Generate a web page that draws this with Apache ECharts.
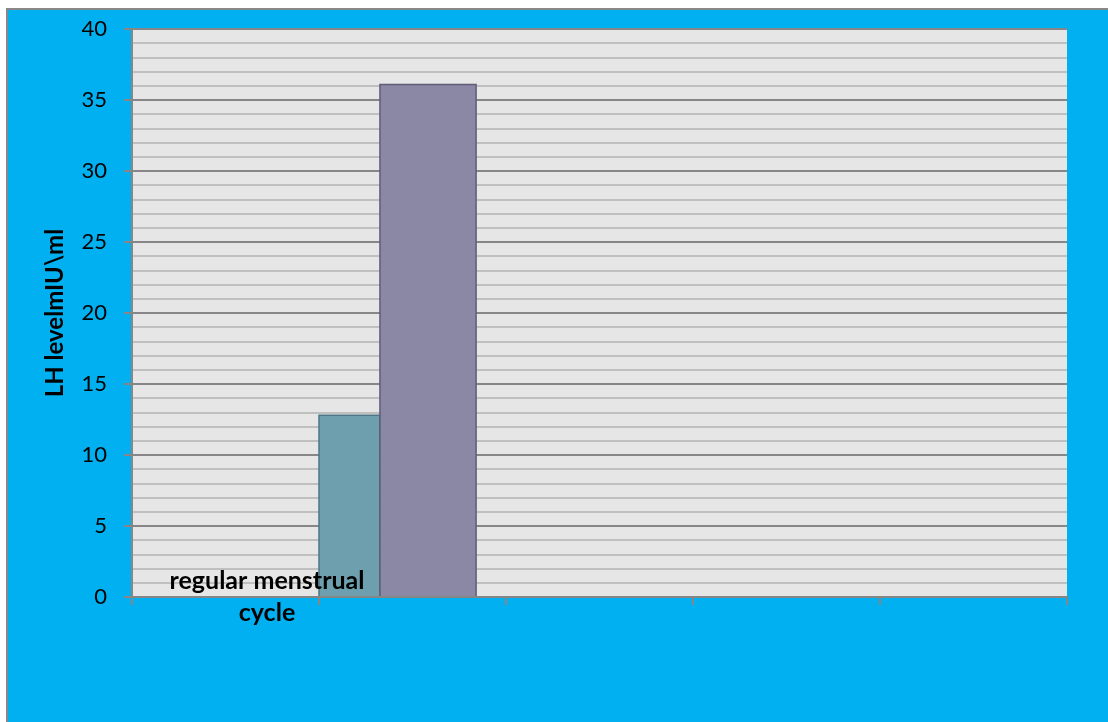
<!DOCTYPE html>
<html>
<head>
<meta charset="utf-8">
<script src="https://cdn.jsdelivr.net/npm/echarts@6/dist/echarts.min.js"></script>
<style>
html,body{margin:0;padding:0;background:#fff;}
#chart{width:1108px;height:722px;}
</style>
</head>
<body>
<div id="chart"></div>
<script>
// ---- data ----
const categories = ['regular menstrual cycle', '', '', '', ''];
const seriesTeal = [12.8, null, null, null, null];
const seriesPurple = [36.1, null, null, null, null];
const yTicks = [0, 5, 10, 15, 20, 25, 30, 35, 40];
const yAxisTitle = 'LH levelmIU\\ml';

function toPairs(arr) {
  const out = [];
  arr.forEach(function (v, i) { if (v != null) out.push([i, v]); });
  return out;
}

function makeRender(startFrac, endFrac, fill, stroke) {
  return function (params, api) {
    const top = api.coord([api.value(0), api.value(1)]);
    const base = api.coord([api.value(0), 0]);
    const band = api.size([1, 0])[0];
    const x0 = top[0] - band / 2 + startFrac * band;
    return {
      type: 'rect',
      shape: { x: x0, y: top[1], width: (endFrac - startFrac) * band, height: base[1] - top[1] },
      style: { fill: fill, stroke: stroke, lineWidth: 1.5 }
    };
  };
}

const chart = echarts.init(document.getElementById('chart'));
chart.setOption({
  backgroundColor: '#ffffff',
  animation: false,
  graphic: [{
    type: 'rect', z: -10, silent: true,
    shape: { x: 7, y: 9, width: 1300, height: 900 },
    style: { fill: '#00B0F0', stroke: '#888888', lineWidth: 2 }
  }],
  grid: {
    left: 132, top: 29, right: 41, bottom: 125, show: true,
    backgroundColor: '#E6E6E6', borderWidth: 0,
    containLabel: false, outerBoundsMode: 'none'
  },
  xAxis: {
    type: 'category',
    data: categories,
    boundaryGap: true,
    z: 5,
    axisLine: { show: true, lineStyle: { color: '#868686', width: 2 } },
    axisTick: { show: true, interval: 0, length: 8, lineStyle: { color: '#868686', width: 2 } },
    axisLabel: {
      interval: 0, margin: -32, color: '#000', fontFamily: 'Lato', fontWeight: 'bold', fontSize: 25,
      lineHeight: 32, padding: [0, 0, 0, 83],
      formatter: function (v) { return v.replace(/ (\S+)$/, '\n$1'); }
    },
    splitLine: { show: false }
  },
  yAxis: {
    type: 'value', min: yTicks[0], max: yTicks[yTicks.length - 1], interval: 5,
    name: yAxisTitle, nameLocation: 'middle', nameGap: 65,
    nameTextStyle: { color: '#000', fontFamily: 'Lato', fontWeight: 'bold', fontSize: 24 },
    axisLine: { show: true, lineStyle: { color: '#868686', width: 2 } },
    axisTick: { show: true, length: 8, lineStyle: { color: '#868686', width: 2 } },
    axisLabel: { margin: 25, color: '#000', fontFamily: 'Lato', fontSize: 22 },
    splitLine: { show: true, lineStyle: { color: '#868686', width: 2 } },
    minorTick: { show: false, splitNumber: 5 },
    minorSplitLine: { show: true, lineStyle: { color: '#B3B3B3', width: 1.5 } }
  },
  series: [
    {
      type: 'custom', name: 'teal',
      renderItem: makeRender(1.0, 1.326, '#6E9FAF', '#4D7785'),
      encode: { x: 0, y: 1 },
      data: toPairs(seriesTeal), z: 2
    },
    {
      type: 'custom', name: 'purple',
      renderItem: makeRender(1.326, 1.84, '#8B88A6', '#5F5B78'),
      encode: { x: 0, y: 1 },
      data: toPairs(seriesPurple), z: 2
    }
  ]
});
</script>
</body>
</html>
